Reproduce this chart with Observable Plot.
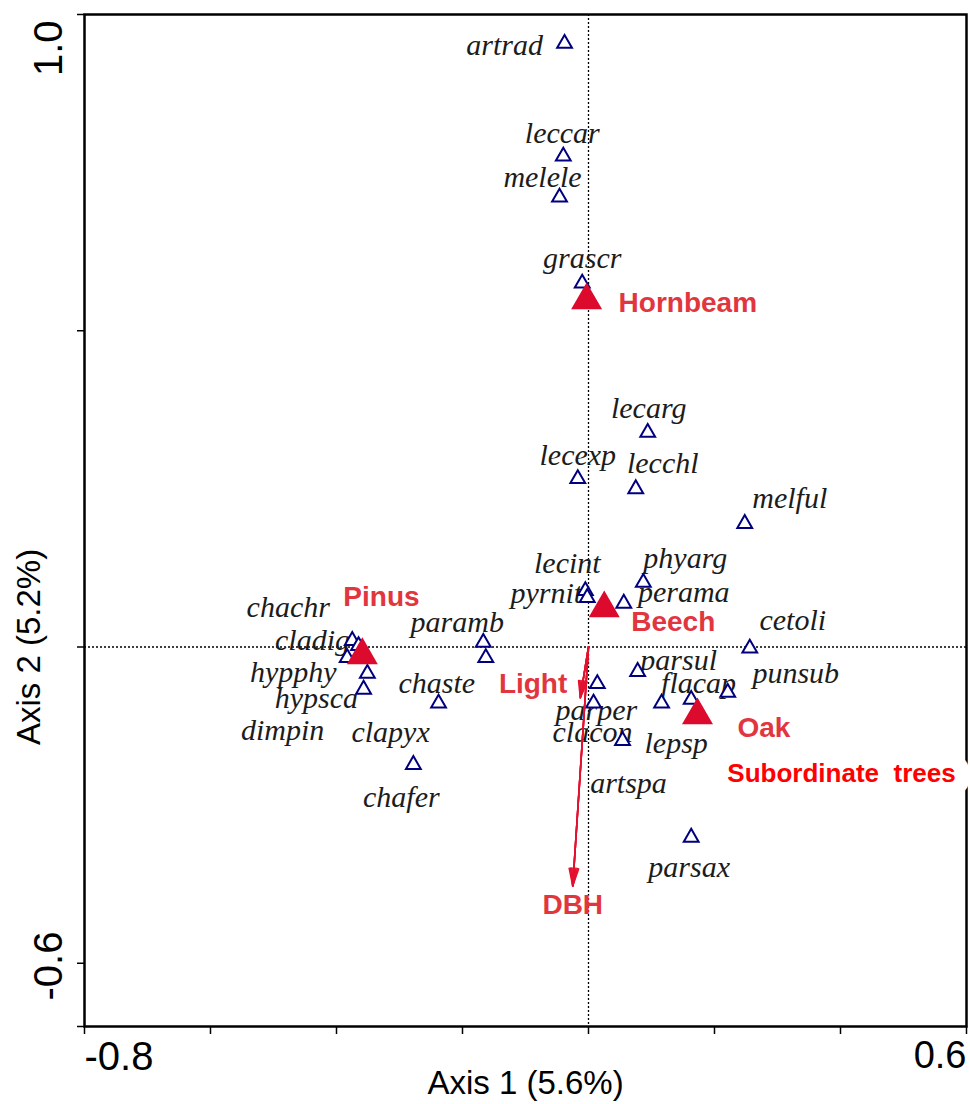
<!DOCTYPE html>
<html>
<head>
<meta charset="utf-8">
<script src="https://cdn.jsdelivr.net/npm/d3@7"></script>
<script src="https://cdn.jsdelivr.net/npm/@observablehq/plot@0.6"></script>
<style>
  body { margin: 0; background: #fff; }
  svg text { white-space: pre; }
</style>
</head>
<body>
<div id="chart"></div>
<script>
// ---- Species scores (CCA) ----
const speciesCodes = ["artrad","leccar","melele","grascr","lecarg","lecexp","lecchl","melful","lecint","pyrnit","phyarg","perama","chachr","cladig","hypphy","hypsca","dimpin","paramb","chaste","clapyx","chafer","parper","clacon","artspa","parsul","flacap","lepsp","punsub","cetoli","parsax"];
const speciesAxis1 = [-0.038,-0.040,-0.046,-0.010,0.094,-0.017,0.075,0.248,-0.005,-0.002,0.087,0.056,-0.375,-0.365,-0.383,-0.351,-0.357,-0.167,-0.163,-0.238,-0.278,0.014,0.008,0.054,0.078,0.116,0.163,0.221,0.256,0.163];
const speciesAxis2 = [0.954,0.776,0.711,0.575,0.339,0.266,0.250,0.195,0.089,0.078,0.102,0.069,0.010,0.002,-0.017,-0.042,-0.067,0.007,-0.017,-0.089,-0.186,-0.058,-0.089,-0.148,-0.039,-0.089,-0.083,-0.072,-0.002,-0.301];

// ---- Tree-type centroids ----
const treeNames = ["Hornbeam","Pinus","Beech","Oak"];
const treeAxis1 = [-0.003,-0.359,0.025,0.173];
const treeAxis2 = [0.548,-0.013,0.061,-0.108];

// ---- Environmental variable arrows ----
const envNames = ["Light","DBH"];
const envAxis1 = [-0.013,-0.025];
const envAxis2 = [-0.080,-0.378];

// ---- Supplementary label ----
const suppNames = ["Subordinate  trees"];
const suppAxis1 = [0.40];
const suppAxis2 = [-0.20];

// ---- Axes ----
const xTicks = [-0.8,-0.6,-0.4,-0.2,0,0.2,0.4,0.6];
const yTicks = [1.0,0.5,0,-0.5,-0.6];
const xEndLabels = [-0.8, 0.6];
const yEndLabels = [1.0, -0.6];
const axis1Title = "Axis 1 (5.6%)";
const axis2Title = "Axis 2 (5.2%)";

// ---- Layout: label nudges in px (dx, dy) ----
const speciesLabelNudge = [[-60,2],[-1,-23],[-17,-20],[0,-25],[1,-24],[0,-23],[27,-25],[45,-25],[-18,-27],[-41,-4],[42,-24],[60,-11],[-64,-33],[-46,-5],[-54,15],[-51,25],[-81,41],[-26,-20],[-49,26],[-48,29],[-12,33],[-1,27],[-1,29],[6,43],[41,-11],[37,-20],[-15,44],[68,-19],[43,-28],[-2,30]];
const treeLabelNudge = [[32,3],[-19,-58],[27,14],[40,13]];
const envLabelLayout = [{dx:-13, dy:-14, anchor:"end"}, {dx:0, dy:19, anchor:"middle"}];

const species = speciesCodes.map((n,i) => ({name:n, x:speciesAxis1[i], y:speciesAxis2[i], dx:speciesLabelNudge[i][0], dy:speciesLabelNudge[i][1]}));
const trees = treeNames.map((n,i) => ({name:n, x:treeAxis1[i], y:treeAxis2[i], dx:treeLabelNudge[i][0], dy:treeLabelNudge[i][1]}));
const envs = envNames.map((n,i) => ({name:n, x:envAxis1[i], y:envAxis2[i], ...envLabelLayout[i]}));
const supp = suppNames.map((n,i) => ({name:n, x:suppAxis1[i], y:suppAxis2[i]}));

const sansFont = "'Liberation Sans', Arial, sans-serif";
const serifFont = "'Liberation Serif', 'Times New Roman', serif";
const labelRed = "#e2363f";
const triRed = "#dc0a2d";
const arrowRed = "#e3102f";
const navy = "#00007f";

const marks = [
  Plot.frame({stroke:"#000", strokeWidth:2.5}),
  Plot.ruleX([0], {stroke:"#000", strokeWidth:1.3, strokeDasharray:"2,2"}),
  Plot.ruleY([0], {stroke:"#000", strokeWidth:1.3, strokeDasharray:"2,2"}),
  Plot.axisX(xTicks, {tickSize:8, tickFormat:() => "", label:null, strokeWidth:1.5}),
  Plot.axisY(yTicks, {tickSize:7, tickFormat:() => "", label:null, strokeWidth:1.5}),
  // end tick labels
  Plot.text([xEndLabels[0]], {x:d=>d, frameAnchor:"bottom", text:d=>d.toFixed(1), textAnchor:"start", lineAnchor:"top", dy:15, fontSize:40, fontFamily:sansFont, fill:"#000"}),
  Plot.text([xEndLabels[1]], {x:d=>d, frameAnchor:"bottom", text:d=>d.toFixed(1), textAnchor:"end", lineAnchor:"top", dy:15, fontSize:38, fontFamily:sansFont, fill:"#000"}),
  Plot.text([yEndLabels[0]], {y:d=>d, frameAnchor:"left", text:d=>d.toFixed(1), rotate:-90, textAnchor:"end", lineAnchor:"bottom", dx:-23, dy:6, fontSize:40, fontFamily:sansFont, fill:"#000"}),
  Plot.text([yEndLabels[1]], {y:d=>d, frameAnchor:"left", text:d=>d.toFixed(1), rotate:-90, textAnchor:"start", lineAnchor:"bottom", dx:-23, dy:-26, fontSize:40, fontFamily:sansFont, fill:"#000"}),
  // axis titles
  Plot.text([axis1Title], {frameAnchor:"bottom", lineAnchor:"top", dy:44, fontSize:33, fontFamily:sansFont, fill:"#000"}),
  Plot.text([0], {y:d=>d, frameAnchor:"left", text:() => axis2Title, rotate:-90, textAnchor:"middle", lineAnchor:"bottom", dx:-45, fontSize:33, fontFamily:sansFont, fill:"#000"}),
  // species labels
  ...species.map(s => Plot.text([s], {x:"x", y:"y", text:"name", dx:s.dx, dy:s.dy, fontSize:30, fontStyle:"italic", fontFamily:serifFont, fill:"#1c1c1c"})),
  // species triangles
  Plot.dot(species, {x:"x", y:"y", symbol:"triangle", r:5.5, stroke:navy, strokeWidth:2, fill:"white"}),
  // env arrows (stacked heads give a filled look)
  ...[6,14,22,30].map(a => Plot.arrow(envs, {x1:0, y1:0, x2:"x", y2:"y", stroke:arrowRed, strokeWidth:1.6, headLength:17, headAngle:a})),
  ...envs.map(e => Plot.text([e], {x:"x", y:"y", text:"name", dx:e.dx, dy:e.dy, textAnchor:e.anchor, fontSize:28, fontWeight:"bold", fontFamily:sansFont, fill:labelRed})),
  // tree centroids
  Plot.dot(trees, {x:"x", y:"y", symbol:"triangle", r:11.5, fill:triRed}),
  ...trees.map(t => Plot.text([t], {x:"x", y:"y", text:"name", dx:t.dx, dy:t.dy, textAnchor:"start", fontSize:28, fontWeight:"bold", fontFamily:sansFont, fill:labelRed})),
  // supplementary label with white box
  Plot.text(supp, {x:"x", y:"y", text:"name", dx:1, fontSize:26, fontWeight:"bold", fontFamily:sansFont, fill:"#ff0000", stroke:"white", strokeWidth:30, strokeLinejoin:"miter", paintOrder:"stroke"})
];

const chart = Plot.plot({
  width: 970,
  height: 1104,
  marginLeft: 84,
  marginRight: 4,
  marginTop: 14,
  marginBottom: 78,
  x: {domain:[-0.8, 0.6], axis:null},
  y: {domain:[-0.6, 1.0], axis:null},
  style: {background:"white", fontFamily:sansFont, overflow:"visible"},
  marks
});
document.getElementById("chart").appendChild(chart);
</script>
</body>
</html>
